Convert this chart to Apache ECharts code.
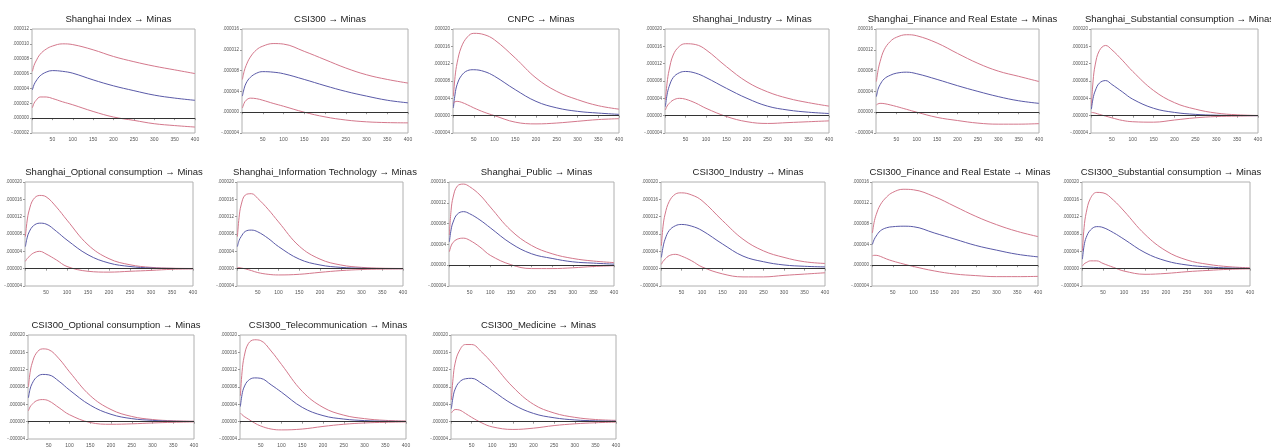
<!DOCTYPE html>
<html>
<head>
<meta charset="utf-8">
<script src="https://cdn.jsdelivr.net/npm/echarts@6/dist/echarts.min.js"></script>
<style>
html,body{margin:0;padding:0;background:#fff;}
#chart{width:1271px;height:448px;}
</style>
</head>
<body>
<div id="chart"></div>
<script>
// Horizon (periods) at which values were read
const periods = [1, 5, 10, 20, 35, 50, 75, 100, 150, 200, 250, 300, 350, 400];
const xTicks = [50, 100, 150, 200, 250, 300, 350, 400];

const panelTitles = [
  "Shanghai Index \u2192 Minas",
  "CSI300 \u2192 Minas",
  "CNPC \u2192 Minas",
  "Shanghai_Industry \u2192 Minas",
  "Shanghai_Finance and Real Estate \u2192 Minas",
  "Shanghai_Substantial consumption \u2192 Minas",
  "Shanghai_Optional consumption \u2192 Minas",
  "Shanghai_Information Technology \u2192 Minas",
  "Shanghai_Public \u2192 Minas",
  "CSI300_Industry \u2192 Minas",
  "CSI300_Finance and Real Estate \u2192 Minas",
  "CSI300_Substantial consumption \u2192 Minas",
  "CSI300_Optional consumption \u2192 Minas",
  "CSI300_Telecommunication \u2192 Minas",
  "CSI300_Medicine \u2192 Minas"
];

// y-axis ranges (in millionths)
const yMin  = [-2, -4, -4, -4, -4, -4, -4, -4, -4, -4, -4, -4, -4, -4, -4];
const yMax  = [12, 16, 20, 20, 16, 20, 20, 20, 16, 20, 16, 20, 20, 20, 20];
const yStep = [ 2,  4,  4,  4,  4,  4,  4,  4,  4,  4,  4,  4,  4,  4,  4];

// values in millionths (x 1e-6)
const upperBand = [
  [6.3, 7.1, 7.7, 8.6, 9.3, 9.7, 10.0, 9.9, 9.2, 8.3, 7.6, 7.0, 6.5, 6.0],
  [6.3, 7.8, 9.0, 10.6, 12.0, 12.7, 13.2, 13.1, 11.7, 10.1, 8.5, 7.2, 6.3, 5.6],
  [4.5, 9.0, 12.2, 15.8, 18.2, 19.0, 18.7, 17.5, 13.3, 8.7, 5.6, 3.7, 2.3, 1.5],
  [3.6, 7.5, 10.5, 14.0, 16.0, 16.6, 16.4, 15.2, 11.3, 7.8, 5.5, 4.0, 3.0, 2.2],
  [5.9, 8.0, 9.7, 12.0, 13.6, 14.4, 14.9, 14.7, 13.3, 11.3, 9.4, 7.9, 6.9, 5.9],
  [2.2, 8.0, 11.7, 15.0, 16.2, 15.2, 12.8, 10.2, 5.8, 3.0, 1.5, 0.6, 0.2, 0.05],
  [7.4, 11.0, 13.5, 16.0, 16.9, 16.6, 14.2, 11.2, 5.5, 2.3, 0.9, 0.3, 0.1, 0.05],
  [7.4, 11.8, 14.7, 17.0, 17.3, 16.2, 13.7, 10.8, 5.2, 2.2, 0.85, 0.3, 0.1, 0.05],
  [5.8, 10.5, 13.1, 15.2, 15.6, 15.1, 13.5, 11.2, 6.7, 3.8, 2.2, 1.3, 0.8, 0.5],
  [5.3, 9.8, 12.6, 15.5, 17.2, 17.5, 17.0, 15.7, 11.1, 6.8, 4.1, 2.6, 1.6, 1.2],
  [6.2, 8.2, 9.7, 11.6, 13.1, 14.0, 14.6, 14.5, 13.2, 11.3, 9.4, 7.8, 6.5, 5.5],
  [4.1, 9.5, 12.9, 16.2, 17.6, 17.5, 15.8, 13.3, 7.9, 4.1, 2.0, 1.0, 0.45, 0.2],
  [8.0, 11.3, 13.5, 15.8, 16.8, 16.6, 14.5, 11.5, 6.0, 2.8, 1.2, 0.5, 0.2, 0.1],
  [6.0, 11.5, 15.0, 18.0, 18.9, 18.7, 16.3, 13.2, 7.0, 3.3, 1.5, 0.7, 0.3, 0.15],
  [5.0, 10.0, 13.5, 16.3, 17.8, 17.8, 16.0, 13.5, 8.0, 4.0, 2.0, 1.0, 0.5, 0.3]
];
const impulse = [
  [3.8, 4.5, 5.0, 5.7, 6.2, 6.4, 6.3, 6.05, 5.15, 4.35, 3.7, 3.1, 2.7, 2.4],
  [3.1, 4.5, 5.6, 6.7, 7.5, 7.8, 7.7, 7.4, 6.3, 5.1, 4.0, 3.1, 2.3, 1.8],
  [1.8, 5.0, 7.2, 9.2, 10.4, 10.6, 10.2, 9.1, 6.0, 3.3, 1.8, 1.0, 0.6, 0.3],
  [2.1, 4.8, 6.7, 8.8, 9.9, 10.2, 9.8, 8.8, 6.3, 4.0, 2.2, 1.3, 0.8, 0.5],
  [3.0, 4.4, 5.3, 6.4, 7.1, 7.5, 7.7, 7.4, 6.3, 5.1, 4.0, 3.0, 2.2, 1.7],
  [1.5, 4.0, 5.7, 7.5, 8.1, 7.2, 5.5, 3.8, 1.7, 0.75, 0.3, 0.1, 0.03, 0.0],
  [5.1, 7.1, 8.5, 9.9, 10.5, 10.3, 8.6, 6.6, 3.2, 1.3, 0.5, 0.15, 0.05, 0.0],
  [5.1, 6.5, 7.4, 8.6, 8.9, 8.5, 7.0, 5.1, 2.2, 0.85, 0.3, 0.1, 0.03, 0.0],
  [4.5, 6.8, 8.3, 9.8, 10.3, 9.9, 8.7, 7.2, 4.2, 2.2, 1.3, 0.65, 0.4, 0.2],
  [2.6, 5.0, 6.8, 8.8, 9.9, 10.2, 9.8, 8.8, 5.7, 2.9, 1.6, 0.85, 0.55, 0.4],
  [4.0, 4.9, 5.6, 6.6, 7.2, 7.4, 7.5, 7.4, 6.2, 5.0, 3.8, 2.9, 2.1, 1.6],
  [2.2, 5.3, 7.2, 8.9, 9.7, 9.5, 8.3, 6.8, 3.7, 1.8, 0.85, 0.4, 0.15, 0.05],
  [5.5, 7.5, 8.8, 10.2, 10.9, 10.8, 9.3, 7.3, 3.8, 1.7, 0.7, 0.3, 0.1, 0.05],
  [3.5, 6.3, 8.0, 9.5, 10.1, 10.0, 8.5, 6.8, 3.3, 1.4, 0.6, 0.25, 0.1, 0.05],
  [3.0, 5.7, 7.5, 9.1, 9.9, 10.0, 8.8, 7.2, 4.0, 1.9, 0.9, 0.4, 0.2, 0.1]
];
const lowerBand = [
  [1.4, 2.0, 2.4, 2.85, 2.85, 2.65, 2.2, 1.8, 0.9, 0.15, -0.3, -0.75, -1.0, -1.2],
  [0.8, 1.7, 2.3, 2.7, 2.6, 2.3, 1.7, 1.15, 0.0, -0.9, -1.5, -1.85, -2.0, -2.05],
  [2.9, 3.2, 3.3, 3.1, 2.5, 1.8, 0.8, 0.0, -1.5, -1.9, -1.7, -1.3, -0.9, -0.7],
  [1.3, 2.2, 2.8, 3.6, 4.0, 3.8, 2.9, 1.7, -0.2, -1.4, -1.8, -1.6, -1.4, -1.2],
  [1.4, 1.6, 1.7, 1.65, 1.4, 1.1, 0.55, 0.0, -1.0, -1.6, -2.1, -2.3, -2.3, -2.2],
  [0.75, 0.7, 0.6, 0.3, -0.1, -0.5, -1.1, -1.4, -1.5, -1.0, -0.5, -0.2, -0.1, 0.0],
  [1.7, 2.3, 2.8, 3.6, 4.0, 3.4, 2.0, 0.5, -0.6, -0.8, -0.6, -0.4, -0.15, -0.05],
  [0.3, 0.25, 0.15, -0.05, -0.45, -0.9, -1.3, -1.45, -1.3, -0.85, -0.45, -0.2, -0.1, -0.05],
  [2.6, 3.7, 4.4, 5.0, 5.2, 4.8, 3.5, 1.9, 0.1, -0.65, -0.65, -0.5, -0.25, -0.1],
  [1.0, 1.7, 2.2, 3.0, 3.3, 2.9, 1.8, 0.4, -1.2, -1.9, -1.9, -1.55, -1.25, -0.95],
  [1.8, 1.9, 1.9, 1.7, 1.2, 0.8, 0.25, -0.25, -1.1, -1.7, -2.0, -2.2, -2.2, -2.15],
  [0.6, 1.1, 1.4, 1.8, 1.8, 1.2, 0.3, -0.55, -1.3, -1.1, -0.7, -0.4, -0.15, -0.05],
  [2.5, 3.4, 4.0, 4.8, 5.1, 4.8, 3.2, 1.6, -0.2, -0.6, -0.5, -0.3, -0.15, -0.05],
  [2.0, 1.6, 1.2, 0.6, -0.3, -1.0, -1.7, -1.9, -1.7, -1.1, -0.6, -0.3, -0.15, -0.05],
  [2.0, 2.5, 2.8, 2.7, 1.9, 1.0, -0.3, -1.2, -1.8, -1.5, -0.9, -0.5, -0.25, -0.1]
];

// ---------- layout ----------
const rowTop = [29, 182, 335];
const boxH = 104;
const boxLeft = [
  [32, 242, 453, 665, 876, 1091],
  [25, 237, 449, 661, 872, 1082],
  [28, 240, 451]
];
const boxW = [
  [163, 166, 166, 164, 163, 167],
  [168, 166, 165, 164, 166, 168],
  [166, 166, 165]
];

const FONT = "'Liberation Sans', Arial, sans-serif";
const bandColor = '#d4788c';
const midColor = '#5a5aa8';

function fmtY(v) {
  const n = Math.round(v);
  const s = String(Math.abs(n)).padStart(6, '0');
  return (n < 0 ? '-' : '') + '.' + s;
}

const grids = [], xAxes = [], yAxes = [], series = [], titles = [];
for (let i = 0; i < panelTitles.length; i++) {
  const r = Math.floor(i / 6), c = i % 6;
  const left = boxLeft[r][c], w = boxW[r][c], top = rowTop[r];
  grids.push({ left: left, top: top, width: w, height: boxH, show: true,
    borderColor: '#b0b0b0', borderWidth: 1, backgroundColor: '#fff' });
  titles.push({ text: panelTitles[i], left: left + w / 2, top: top - 20, textAlign: 'center',
    textStyle: { fontFamily: FONT, fontSize: 9.5, fontWeight: 'normal', color: '#222' } });
  xAxes.push({ type: 'value', gridIndex: i, min: 0, max: 400, interval: 50,
    axisLine: { show: false }, splitLine: { show: false },
    axisTick: { show: true, length: 2, lineStyle: { color: '#999' } },
    axisLabel: { fontFamily: FONT, fontSize: 5, color: '#555', margin: 4,
      formatter: v => (xTicks.indexOf(v) >= 0 ? String(v) : '') } });
  yAxes.push({ type: 'value', gridIndex: i, min: yMin[i], max: yMax[i], interval: yStep[i],
    axisLine: { show: false }, splitLine: { show: false },
    axisTick: { show: true, length: 2, lineStyle: { color: '#999' } },
    axisLabel: { fontFamily: FONT, fontSize: 4.5, color: '#555', margin: 3, formatter: fmtY } });
  const mk = arr => periods.map((p, k) => [p, arr[k]]);
  const common = { type: 'line', xAxisIndex: i, yAxisIndex: i, showSymbol: false, symbol: 'none',
    smooth: 0.4, silent: true, animation: false };
  series.push(Object.assign({}, common, { data: mk(upperBand[i]), lineStyle: { color: bandColor, width: 1 } }));
  series.push(Object.assign({}, common, { data: mk(impulse[i]), lineStyle: { color: midColor, width: 1 },
    markLine: { silent: true, symbol: 'none', label: { show: false }, animation: false,
      lineStyle: { color: '#333', width: 1, type: 'solid' }, data: [{ yAxis: 0 }] } }));
  series.push(Object.assign({}, common, { data: mk(lowerBand[i]), lineStyle: { color: bandColor, width: 1 } }));
}

const chart = echarts.init(document.getElementById('chart'), null, { renderer: 'canvas' });
chart.setOption({
  backgroundColor: '#fff',
  animation: false,
  title: titles,
  grid: grids,
  xAxis: xAxes,
  yAxis: yAxes,
  series: series
});
</script>
</body>
</html>
